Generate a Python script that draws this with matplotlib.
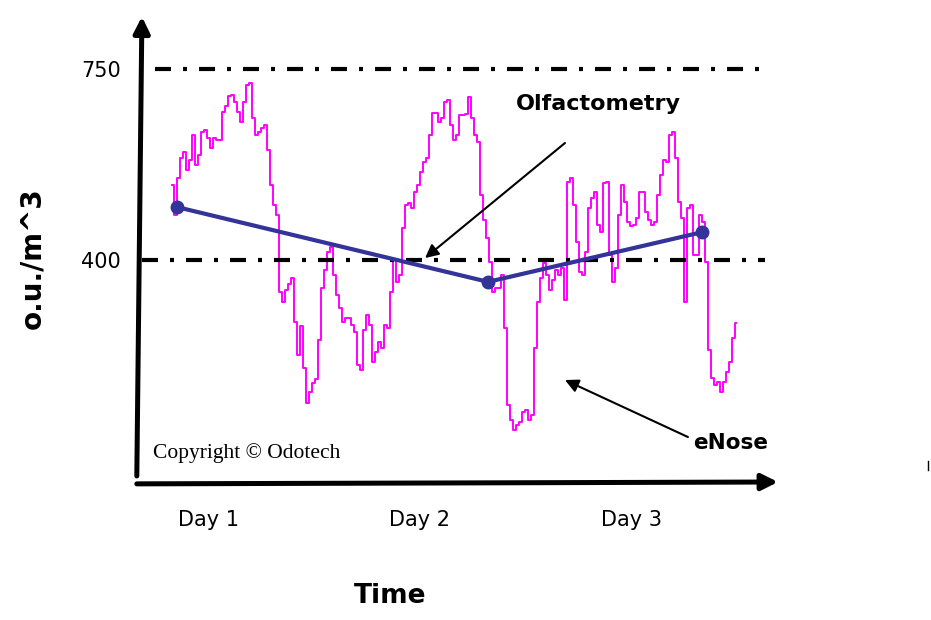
import numpy as np
import matplotlib
matplotlib.use("Agg")
import matplotlib.pyplot as plt
from matplotlib.lines import Line2D

# eNose signal (o.u./m^3), evenly sampled between day 0.83 and day 3.49
enose_start, enose_end = 0.830, 3.491
enose = [
    537, 482, 550, 587, 598, 565, 583, 629, 574, 592, 635, 638, 624, 605, 624, 620,
    620, 671, 682, 701, 702, 690, 671, 653, 690, 721, 724, 660, 629, 635, 642, 647,
    602, 537, 501, 482, 341, 323, 345, 356, 367, 287, 226, 279, 202, 138, 158, 175,
    182, 254, 349, 382, 415, 424, 373, 336, 312, 287, 294, 294, 281, 268, 208, 199,
    272, 299, 281, 213, 232, 250, 239, 281, 276, 341, 400, 360, 373, 459, 501, 504,
    495, 525, 537, 561, 580, 587, 629, 669, 669, 653, 660, 690, 693, 647, 620, 629,
    666, 666, 668, 699, 660, 629, 616, 519, 473, 440, 396, 341, 349, 349, 373, 276,
    134, 107, 89, 98, 103, 122, 125, 107, 116, 239, 323, 367, 395, 373, 345, 363,
    382, 373, 385, 327, 543, 550, 501, 433, 378, 373, 415, 495, 514, 525, 464, 451,
    541, 543, 409, 360, 385, 482, 537, 506, 470, 462, 464, 477, 525, 525, 488, 473,
    464, 470, 519, 556, 583, 580, 629, 635, 587, 506, 477, 323, 495, 501, 409, 409,
    482, 470, 396, 235, 184, 171, 177, 158, 177, 195, 213, 257, 285,
]

# olfactometry samples
olf_days = [0.854, 2.321, 3.330]
olf_vals = [497, 360, 451]

ref_levels = [750, 400]
ref_start = [0.750, 0.689]
ref_end = [3.604, 3.627]

day_ticks = [1, 2, 3]
day_labels = ["Day 1", "Day 2", "Day 3"]

fig = plt.figure(figsize=(9.31, 6.2), dpi=100)
ax = fig.add_axes([140 / 931, 138 / 620, 638 / 931, 464 / 620])
ax.set_xlim(0.679, 3.689)
ax.set_ylim(-6.6, 843.4)
for s in ax.spines.values():
    s.set_visible(False)

t = np.linspace(enose_start, enose_end, len(enose))
ax.plot(t, enose, color="#ff00ff", lw=1.4, drawstyle="steps-mid", zorder=2)

# reference levels
for lvl, x0, x1 in zip(ref_levels, ref_start, ref_end):
    ax.hlines(lvl, x0, x1, colors="black", lw=3,
              linestyles=[(0, (3.84, 2.88, 0.96, 2.88))], zorder=3)

ax.plot(olf_days, olf_vals, color="#333399", lw=3, marker="o", ms=9, zorder=4)

# ticks
ax.set_xticks(day_ticks, day_labels, fontsize=15)
ax.set_yticks(ref_levels, [str(v) for v in ref_levels], fontsize=15)
ax.tick_params(axis="both", length=0)
ax.tick_params(axis="x", pad=20)
ax.tick_params(axis="y", pad=14)

ax.set_xlabel("Time", fontsize=19, fontweight="bold")
ax.xaxis.set_label_coords(0.392, -0.2457)
ax.xaxis.label.set_va("center")
ax.set_ylabel("o.u./m^3", fontsize=20, fontweight="bold")
ax.yaxis.set_label_coords(-0.169, 0.483)
ax.yaxis.label.set_va("center")

# axis arrows
arrow = dict(arrowstyle="-|>", lw=3.6, color="black", mutation_scale=24,
             shrinkA=0, shrinkB=0)
ax.annotate("", xy=(0.003, 1.003), xytext=(-0.005, 0.013),
            xycoords="axes fraction", textcoords="axes fraction",
            arrowprops=arrow, annotation_clip=False)
ax.annotate("", xy=(1.0, 0.0), xytext=(-0.005, -0.004),
            xycoords="axes fraction", textcoords="axes fraction",
            arrowprops=arrow, annotation_clip=False)

# callouts
thin = dict(arrowstyle="-|>", lw=1.5, color="black", mutation_scale=20,
            shrinkA=0, shrinkB=0)
ax.annotate("", xy=(2.024, 403.7), xytext=(2.684, 614.4), arrowprops=thin)
ax.text(2.840, 685.9, "Olfactometry", fontsize=16, fontweight="bold",
        ha="center", va="center")
ax.annotate("", xy=(2.684, 180.2), xytext=(3.264, 75.8), arrowprops=thin)
ax.text(3.467, 64.8, "eNose", fontsize=15.5, fontweight="bold",
        ha="center", va="center")

ax.text(0.741, 46.5, "Copyright \u00a9 Odotech", fontsize=15.5,
        family="Liberation Serif", ha="left", va="center")

fig.add_artist(Line2D([928 / 931, 928 / 931], [1 - 461 / 620, 1 - 470 / 620],
                      color="black", lw=1))

fig.savefig("out.png", dpi=100)
